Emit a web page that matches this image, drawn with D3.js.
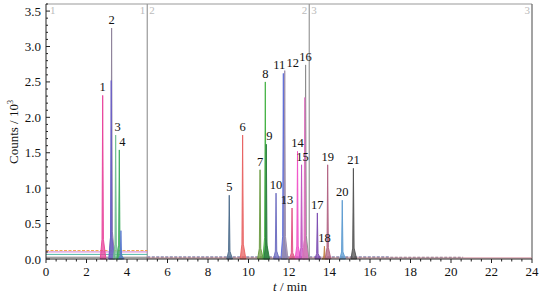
<!DOCTYPE html>
<html><head><meta charset="utf-8">
<script src="https://cdn.jsdelivr.net/npm/d3@7"></script>
<style>body{margin:0;background:#fff}svg{display:block}text{font-family:"Liberation Serif","Times New Roman",serif}</style>
</head><body><svg id="c" width="543" height="300"></svg>
<script>
// ---- data ----
const peakNames   = ["1","2","2b","3","4","4b","5","6","7","8","9","10","11","12","13","14","15","16","16b","17","18","19","20","21"];
const peakTimes   = [2.80,3.24,3.22,3.44,3.62,3.70,9.05,9.71,10.57,10.83,10.88,11.36,11.72,11.79,12.15,12.42,12.62,12.82,12.78,13.40,13.75,13.91,14.63,15.18];
const peakHeights = [2.31,3.26,2.52,1.75,1.54,0.40,0.90,1.75,1.26,2.50,1.62,0.93,2.62,2.66,0.72,1.52,1.33,2.74,2.28,0.65,0.18,1.33,0.83,1.28];
const peakColors  = ["#e8409a","#8c8098","#6a5ec8","#70c090","#3aaa5a","#5a78d0","#4a6a8a","#e86060","#6a9a40","#40b040","#2a7a40","#6a6ac0","#5a6ad8","#9a8aa8","#e05080","#f050c8","#c050c0","#8a8a8a","#e070c0","#7a4ab0","#c08040","#b06080","#5a9ad0","#505050"];
const xTicks = [0,2,4,6,8,10,12,14,16,18,20,22,24];
const yTicks = [0.0,0.5,1.0,1.5,2.0,2.5,3.0,3.5];
const segBounds = [5,13,24];
const segLabels = [["1",""],["1","2"],["2","3"],["3",""]];
// baselines: [start, end, level, color, dashed]
const baseStart  = [0,0,0,0,5,5,5];
const baseEnd    = [5,5,5,5,24,20.6,17];
const baseLevel  = [0.12,0.10,0.065,0.025,0.015,0.025,0.035];
const baseColor  = ["#f0a040","#d070d0","#40b0a0","#707070","#d08090","#8a7080","#a0a0c0"];
const baseDash   = [true,false,false,false,false,true,true];
// label layout tweaks (px)
const labelDx = {"3":2,"4":3,"9":3,"11":-4,"12":8,"13":-5,"14":0,"15":1};

// ---- layout ----
const svg = d3.select("#c");
const x = d3.scaleLinear().domain([0,24]).range([46,532]);
const y = d3.scaleLinear().domain([0,3.6]).range([259,4]);

// frame
svg.append("line").attr("x1",46).attr("x2",532).attr("y1",y(3.6)).attr("y2",y(3.6)).attr("stroke","#999").attr("stroke-width",1);
svg.append("line").attr("x1",x(24)).attr("x2",x(24)).attr("y1",y(3.6)).attr("y2",y(0)).attr("stroke","#666").attr("stroke-width",1.2);
segBounds.slice(0,2).forEach(b=>{
  svg.append("line").attr("x1",x(b)).attr("x2",x(b)).attr("y1",y(3.6)).attr("y2",y(0)).attr("stroke","#999").attr("stroke-width",1.2);
});
// segment labels
const segX = [0].concat(segBounds);
segX.forEach((b,i)=>{
  const [l,r] = segLabels[i];
  if(i===0){
    svg.append("text").attr("x",x(b)+4).attr("y",14).attr("font-size",11).attr("fill","#bbb").text(l);
  } else {
    if(l) svg.append("text").attr("x",x(b)-2).attr("y",14).attr("text-anchor","end").attr("font-size",11).attr("fill","#bbb").text(l);
    if(r) svg.append("text").attr("x",x(b)+2).attr("y",14).attr("font-size",11).attr("fill","#bbb").text(r);
  }
});

// baselines
baseStart.forEach((s,i)=>{
  svg.append("line").attr("x1",x(s)).attr("x2",x(baseEnd[i])).attr("y1",y(baseLevel[i])).attr("y2",y(baseLevel[i]))
    .attr("stroke",baseColor[i]).attr("stroke-width",1).attr("stroke-dasharray",baseDash[i]?"3,1.5":null).attr("opacity",0.9);
});

// peaks
const shape = [[-0.12,0],[-0.035,0.12],[0,1],[0.035,0.12],[0.16,0]];
const line = d3.line().x(d=>x(d[0])).y(d=>y(d[1]));
peakNames.forEach((n,i)=>{
  const t=peakTimes[i], h=peakHeights[i];
  const pts = shape.map(s=>[t+s[0], h*s[1]]);
  svg.append("path").attr("d",line(pts)+"Z").attr("fill",peakColors[i]).attr("fill-opacity",0.75)
    .attr("stroke",peakColors[i]).attr("stroke-width",0.9);
});
// peak labels
peakNames.forEach((n,i)=>{
  if(n.endsWith("b")) return;
  svg.append("text").attr("x",x(peakTimes[i])+(labelDx[n]||0)).attr("y",y(peakHeights[i])-4)
    .attr("text-anchor","middle").attr("font-size",12.5).attr("fill","#111").text(n);
});

// axes
const xAxis = svg.append("g").attr("transform","translate(0,259)");
xAxis.append("line").attr("x1",46).attr("x2",532).attr("stroke","#222");
d3.range(0,24.01,0.5).forEach(v=>{
  const major = Math.abs(v%2)<1e-6;
  xAxis.append("line").attr("x1",x(v)).attr("x2",x(v)).attr("y1",0).attr("y2",major?4:2.5).attr("stroke","#222");
});
xTicks.forEach(v=>{
  xAxis.append("text").attr("x",x(v)).attr("y",17).attr("text-anchor","middle").attr("font-size",13).attr("fill","#111").text(v);
});
const yAxis = svg.append("g");
yAxis.append("line").attr("x1",46).attr("x2",46).attr("y1",y(0)).attr("y2",y(3.6)).attr("stroke","#222");
d3.range(0,3.601,0.1).forEach(v=>{
  const major = Math.abs((v*10)%5)<1e-6 || Math.abs((v*10)%5-5)<1e-6;
  yAxis.append("line").attr("x1",46).attr("x2",46+(major?4:2)).attr("y1",y(v)).attr("y2",y(v)).attr("stroke","#222");
});
yTicks.forEach(v=>{
  yAxis.append("text").attr("x",41).attr("y",y(v)+4.5).attr("text-anchor","end").attr("font-size",13).attr("fill","#111").text(d3.format(".1f")(v));
});
// titles
const yt = svg.append("text").attr("transform","translate(18,132) rotate(-90)").attr("text-anchor","middle").attr("font-size",13).attr("fill","#111");
yt.append("tspan").text("Counts / 10");
yt.append("tspan").attr("font-size",8).attr("dy",-5).text("3");
const xt = svg.append("text").attr("x",290).attr("y",291).attr("text-anchor","middle").attr("font-size",13).attr("fill","#111");
xt.append("tspan").attr("font-style","italic").text("t");
xt.append("tspan").text(" / min");
</script></body></html>
